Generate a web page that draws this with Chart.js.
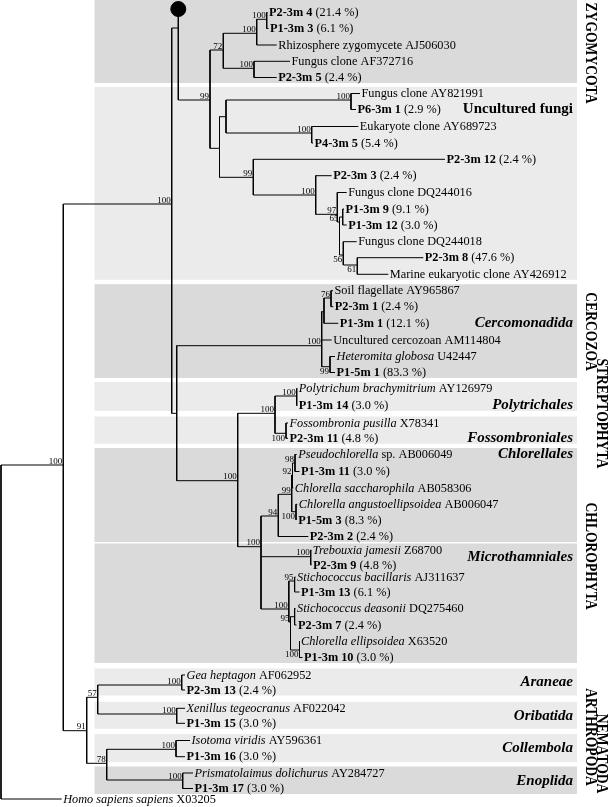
<!DOCTYPE html>
<html>
<head>
<meta charset="utf-8">
<script src="https://cdn.jsdelivr.net/npm/chart.js@4.4.0/dist/chart.umd.min.js"></script>
<style>
  html, body { margin: 0; padding: 0; background: #fff; }
  #wrap { width: 608px; height: 807px; }
</style>
</head>
<body>
<div id="wrap"><canvas id="treeChart" width="608" height="807"></canvas></div>
<script>
//tips, top to bottom.....................
// **bold** and *italic* parts of each name
var leafLabels = [
  "**P2-3m 4** (21.4 %)", "**P1-3m 3** (6.1 %)", "Rhizosphere zygomycete AJ506030",
  "Fungus clone AF372716", "**P2-3m 5** (2.4 %)", "Fungus clone AY821991", "**P6-3m 1** (2.9 %)",
  "Eukaryote clone AY689723", "**P4-3m 5** (5.4 %)", "**P2-3m 12** (2.4 %)", "**P2-3m 3** (2.4 %)",
  "Fungus clone DQ244016", "**P1-3m 9** (9.1 %)", "**P1-3m 12** (3.0 %)", "Fungus clone DQ244018",
  "**P2-3m 8** (47.6 %)", "Marine eukaryotic clone AY426912", "Soil flagellate AY965867",
  "**P2-3m 1** (2.4 %)", "**P1-3m 1** (12.1 %)", "Uncultured cercozoan AM114804",
  "*Heteromita globosa* U42447", "**P1-5m 1** (83.3 %)", "*Polytrichum brachymitrium* AY126979",
  "**P1-3m 14** (3.0 %)", "*Fossombronia pusilla* X78341", "**P2-3m 11** (4.8 %)",
  "*Pseudochlorella* sp. AB006049", "**P1-3m 11** (3.0 %)", "*Chlorella saccharophila* AB058306",
  "*Chlorella angustoellipsoidea* AB006047", "**P1-5m 3** (8.3 %)", "**P2-3m 2** (2.4 %)",
  "*Trebouxia jamesii* Z68700", "**P2-3m 9** (4.8 %)", "*Stichococcus bacillaris* AJ311637",
  "**P1-3m 13** (6.1 %)", "*Stichococcus deasonii* DQ275460", "**P2-3m 7** (2.4 %)",
  "*Chlorella ellipsoidea* X63520", "**P1-3m 10** (3.0 %)", "*Gea heptagon* AF062952",
  "**P2-3m 13** (2.4 %)", "*Xenillus tegeocranus* AF022042", "**P1-3m 15** (3.0 %)",
  "*Isotoma viridis* AY596361", "**P1-3m 16** (3.0 %)", "*Prismatolaimus dolichurus* AY284727",
  "**P1-3m 17** (3.0 %)", "*Homo sapiens sapiens* X03205"
];
var leafRow = [
  12.5, 28.5, 45, 61.3, 77.5, 93.5, 109.5, 126.5, 143, 159.3,
  175.7, 192.5, 209, 225, 241.7, 257.7, 274.3, 290.7, 306.7, 323.3,
  340, 356.5, 372.5, 388.5, 405.5, 423, 438.3, 454.5, 471.5, 488,
  504.3, 520, 536.5, 550, 565, 577, 592, 608.5, 625, 641,
  657.5, 675, 690, 708.3, 723.3, 740.5, 756.7, 773, 788.5, 799
];
var leafDepth = [
  267.5, 268.5, 276.7, 290, 276.7, 360, 356, 358.3, 313, 445,
  331.7, 346.7, 344, 346.7, 356.7, 423.3, 388.3, 333, 333.3, 338.3,
  331.7, 335, 335, 297.3, 297.3, 288, 288, 296.7, 299.5, 293.3,
  297.3, 296.7, 308.3, 311.3, 311.5, 295.5, 299.5, 295.5, 296.5, 299.5,
  302.5, 185, 185, 185, 185, 190, 185, 193, 193, 61.7
];
var leafParent = [
  "I", "I", "G", "H", "H", "K", "K", "L", "L", "M",
  "N", "O", "R", "R", "Q", "S", "S", "X", "X", "Y",
  "W", "Z", "Z", "AB", "AB", "AC", "AC", "AJ", "AJ", "AL",
  "AK", "AK", "AE", "TR", "TR", "ST1", "ST1", "ST2", "ST2", "EL",
  "EL", "GE", "GE", "XE", "XE", "IS", "IS", "PR", "PR", "root"
];

//inner nodes.....................
var nodeNames   = ["root", "A", "B", "C", "D", "E", "G", "I", "H", "F", "J", "K", "L", "M", "N", "O", "P", "R", "Q", "S",
                   "U", "W", "Y", "X", "Z", "V", "AA", "AB", "AC", "AD", "AE", "AI", "AL", "AJ", "AK", "TR", "AG", "ST1", "AM", "ST2", "EL",
                   "AN", "AO", "GE", "XE", "AP", "IS", "PR"];
var nodeDepth   = [1, 63.3, 171.7, 178.3, 210, 223.3, 256.7, 266.7, 254, 219.5, 226, 351, 311.7, 253.3, 315.7, 337.3, 339.5, 342.7, 343.3, 357.3,
                   176.7, 321.7, 324, 331, 330, 237.7, 275, 296.7, 286, 261, 278.3, 291.7, 292.5, 295, 296, 310.7, 288.8, 294.6, 290.5, 294.6, 299.5,
                   86.7, 97.7, 181.7, 176.7, 106.7, 176, 182.7];
var nodeRow     = [632, 465, 204, 28, 100, 50, 33.3, 19.3, 68.3, 148.3, 116.7, 100, 133, 177.3, 195, 214.3, 222, 217, 255, 265,
                   413.3, 345.7, 311.7, 298, 366.7, 480.7, 413.3, 396, 433.3, 546.7, 516, 494.3, 475, 463, 511.7, 556.7, 609, 581, 622, 616.7, 650,
                   730.7, 697.3, 685, 714, 763.3, 749.3, 780];
var nodeParent  = [null, "root", "A", "B", "C", "D", "E", "G", "E", "D", "F", "J", "J", "F", "M", "N", "O", "P", "P", "Q",
                   "B", "U", "W", "Y", "W", "U", "V", "AA", "AA", "V", "AD", "AE", "AI", "AL", "AI", "AD", "AD", "AG", "AG", "AM", "AM",
                   "A", "AN", "AO", "AO", "AN", "AP", "AP"];
var nodeSupport = ["", "100", "100", "", "99", "72", "100", "100", "100", "", "", "100", "100", "99", "100", "97", "65", "", "56", "61",
                   "", "100", "", "76", "99", "100", "100", "100", "100", "100", "94", "99", "92", "98", "100", "100", "100", "95", "95", "", "100",
                   "91", "57", "100", "100", "78", "100", "100"];
// a = value sits above the branch, b = below it
var supportSide = ["a", "a", "a", "a", "a", "a", "a", "a", "a", "a", "a", "a", "a", "a", "a", "a", "a", "a", "b", "b",
                   "a", "a", "a", "a", "b", "a", "a", "a", "b", "a", "a", "a", "a", "a", "b", "a", "a", "a", "a", "a", "b",
                   "a", "a", "a", "a", "a", "a", "a"];

// black dot on top of the fungal node
var dotNode = "C";
var dotRow = 9;

//shaded groups (first tip, last tip).....................
var groupNames = ["", "Uncultured fungi", "Cercomonadida", "Polytrichales", "Fossombroniales", "Chlorellales",
                  "Microthamniales", "Araneae", "Oribatida", "Collembola", "Enoplida"];
var groupFirst = [0, 5, 17, 23, 25, 27, 33, 41, 43, 45, 47];
var groupLast  = [4, 16, 22, 24, 26, 32, 40, 42, 44, 46, 48];
var groupShade = ["dark", "light", "dark", "light", "light", "dark", "dark", "light", "light", "light", "dark"];
var groupNameAt = [0, 6, 19, 24, 26, 27, 33.5, 41.5, 43.5, 45.5, 47.5];

//phyla on the right (label centred on the tips it spans).....................
var phylumNames = ["ZYGOMYCOTA", "CERCOZOA", "STREPTOPHYTA", "CHLOROPHYTA", "ARTHROPODA", "NEMATODA"];
var phylumFirst = [0, 17, 23, 27, 41, 43];
var phylumLast  = [5, 22, 26, 40, 49, 49];
var phylumCol   = [1, 1, 2, 1, 1, 2];

//build the branches.....................
var nodeIndex = {};
nodeNames.forEach(function (n, i) { nodeIndex[n] = i; });

var span = nodeNames.map(function () { return [Infinity, -Infinity]; });
function stretch(parent, row) {
  var s = span[nodeIndex[parent]];
  s[0] = Math.min(s[0], row);
  s[1] = Math.max(s[1], row);
}
leafParent.forEach(function (p, i) { stretch(p, leafRow[i]); });
nodeParent.forEach(function (p, i) { if (p) stretch(p, nodeRow[i]); });
stretch(dotNode, dotRow);

var datasets = [];
function segment(x1, y1, x2, y2) {
  datasets.push({
    data: [{ x: x1, y: y1 }, { x: x2, y: y2 }],
    showLine: true,
    borderColor: "#000",
    borderWidth: 1,
    pointRadius: 0,
    fill: false
  });
}
// vertical bars
nodeNames.forEach(function (n, i) {
  segment(nodeDepth[i], span[i][0], nodeDepth[i], span[i][1]);
});
// horizontal branches
nodeParent.forEach(function (p, i) {
  if (p) segment(nodeDepth[nodeIndex[p]], nodeRow[i], nodeDepth[i], nodeRow[i]);
});
leafParent.forEach(function (p, i) {
  segment(nodeDepth[nodeIndex[p]], leafRow[i], leafDepth[i], leafRow[i]);
});
datasets.push({
  data: [{ x: nodeDepth[nodeIndex[dotNode]], y: dotRow }],
  pointRadius: 7.5,
  pointBackgroundColor: "#000",
  pointBorderColor: "#000",
  showLine: false
});

function rowAt(k) {
  var i = Math.floor(k), f = k - i;
  if (f === 0) return leafRow[i];
  return leafRow[i] + (leafRow[i + 1] - leafRow[i]) * f;
}

var serif = '"Liberation Serif", "Times New Roman", serif';

function drawRich(ctx, str, x, y, size) {
  var parts = str.split(/(\*\*[^*]+\*\*|\*[^*]+\*)/);
  parts.forEach(function (p) {
    if (!p) return;
    var style = "";
    if (p.indexOf("**") === 0) { style = "bold "; p = p.slice(2, -2); }
    else if (p.charAt(0) === "*") { style = "italic "; p = p.slice(1, -1); }
    ctx.font = style + size + "px " + serif;
    ctx.fillText(p, x, y);
    x += ctx.measureText(p).width;
  });
}

// grey boxes behind the groups
var bandsPlugin = {
  id: "bands",
  beforeDatasetsDraw: function (chart) {
    var ctx = chart.ctx, xs = chart.scales.x, ys = chart.scales.y;
    var left = xs.getPixelForValue(94.5), right = xs.getPixelForValue(577);
    ctx.save();
    groupFirst.forEach(function (first, g) {
      var top = first === 0 ? chart.chartArea.top : ys.getPixelForValue(leafRow[first] - 6.5);
      var bottom = ys.getPixelForValue(leafRow[groupLast[g]] + 5.5);
      ctx.fillStyle = groupShade[g] === "dark" ? "#dadada" : "#ebebeb";
      ctx.fillRect(left, top, right - left, bottom - top);
    });
    ctx.restore();
  }
};

// names, support values, group and phylum names
var labelsPlugin = {
  id: "treeLabels",
  afterDatasetsDraw: function (chart) {
    var ctx = chart.ctx, xs = chart.scales.x, ys = chart.scales.y;
    ctx.save();
    ctx.fillStyle = "#000";
    ctx.textAlign = "left";
    ctx.textBaseline = "middle";
    leafLabels.forEach(function (lab, i) {
      drawRich(ctx, lab, xs.getPixelForValue(leafDepth[i]) + 1.5, ys.getPixelForValue(leafRow[i]) + 0.5, 12.3);
    });

    ctx.font = "9px " + serif;
    ctx.textAlign = "right";
    nodeSupport.forEach(function (s, i) {
      if (!s) return;
      var x = xs.getPixelForValue(nodeDepth[i]) - 1;
      var y = ys.getPixelForValue(nodeRow[i]);
      if (supportSide[i] === "a") {
        ctx.textBaseline = "alphabetic";
        ctx.fillText(s, x, y - 1.5);
      } else {
        ctx.textBaseline = "top";
        ctx.fillText(s, x, y + 0.5);
      }
    });

    ctx.textAlign = "right";
    ctx.textBaseline = "middle";
    groupNames.forEach(function (g, i) {
      if (!g) return;
      ctx.font = (g === "Uncultured fungi" ? "bold " : "italic bold ") + "15px " + serif;
      ctx.fillText(g, xs.getPixelForValue(573), ys.getPixelForValue(rowAt(groupNameAt[i])));
    });

    // condensed, turned a quarter clockwise
    ctx.font = "bold 17px " + serif;
    ctx.textAlign = "center";
    phylumNames.forEach(function (p, i) {
      var mid = (leafRow[phylumFirst[i]] + leafRow[phylumLast[i]]) / 2;
      ctx.save();
      ctx.translate(phylumCol[i] === 1 ? 590.5 : 601.5, ys.getPixelForValue(mid));
      ctx.rotate(Math.PI / 2);
      ctx.scale(0.8, 1);
      ctx.fillText(p, 0, 0);
      ctx.restore();
    });
    ctx.restore();
  }
};

new Chart("treeChart", {
  type: "scatter",
  data: { datasets: datasets },
  options: {
    responsive: false,
    animation: false,
    events: [],
    layout: { padding: 0, autoPadding: false },
    plugins: {
      legend: { display: false },
      tooltip: { enabled: false }
    },
    scales: {
      x: { type: "linear", min: 0, max: 608, display: false },
      y: { type: "linear", min: 0, max: 807, reverse: true, display: false }
    }
  },
  plugins: [bandsPlugin, labelsPlugin]
});
</script>
</body>
</html>
